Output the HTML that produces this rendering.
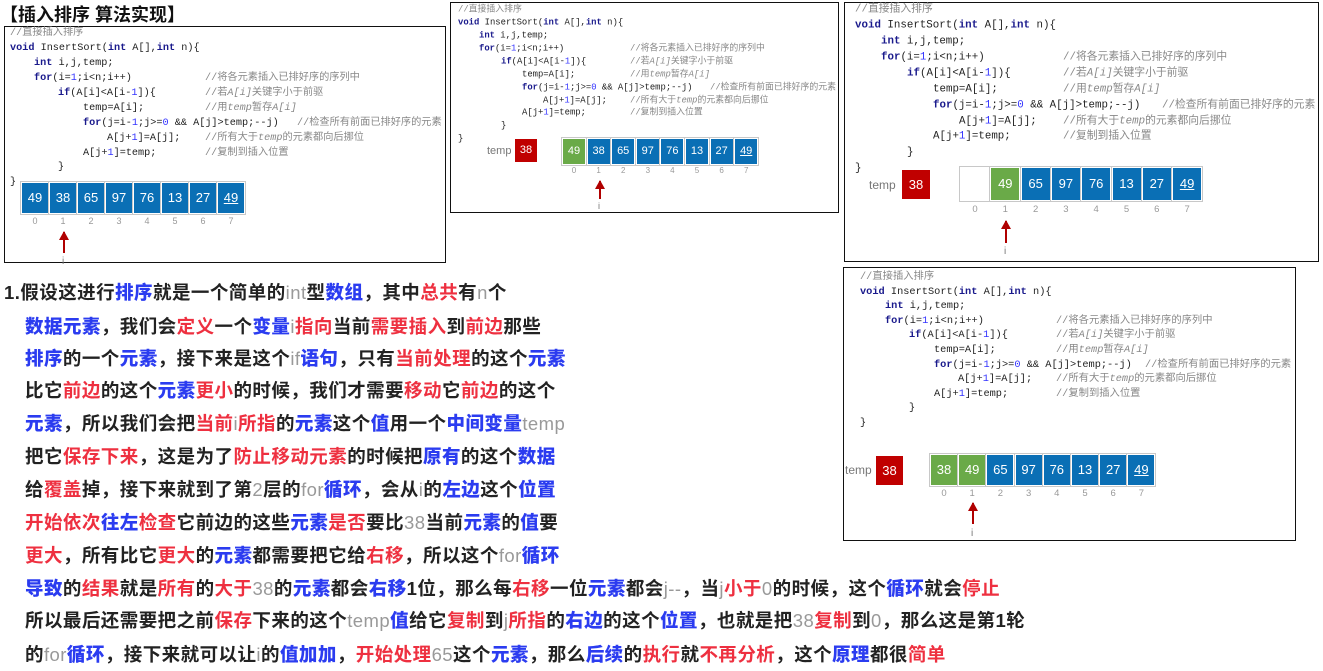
<!DOCTYPE html>
<html><head><meta charset="utf-8">
<style>
*{margin:0;padding:0;box-sizing:border-box}
body{width:1323px;height:671px;background:#fff;position:relative;overflow:hidden;font-family:"Liberation Sans","Noto Sans CJK SC",sans-serif}
.abs{position:absolute}
.box{position:absolute;border:1.5px solid #111;background:#fff}
.code{position:absolute;font-family:"Liberation Mono","Noto Sans CJK SC",monospace;color:#222;white-space:pre}
.code .l{position:absolute;white-space:pre;line-height:1;transform:translateY(-50%)}
.code .c{color:#888}
.code .k{color:#1a1a8c;font-weight:bold}
.code .n{color:#3333ff}
.code i{font-style:italic}
.cell{position:absolute;color:#fff;text-align:center;background:#0a6fb5;box-shadow:0 0 0 1px #fff,0 0 0 2px #c8c8c8}
.cell.g{background:#6aaa48}
.cell.w{background:#fff}
.cell.r{background:#c00000;box-shadow:none}
.idx{position:absolute;color:#999;text-align:center}
.arrow{position:absolute;width:2px;background:#b00000}
.arrow:before{content:"";position:absolute;left:-4px;top:-1px;border-left:5px solid transparent;border-right:5px solid transparent;border-bottom:9px solid #b00000}
.txt{position:absolute;font-size:18.5px;letter-spacing:0.45px;font-weight:bold;color:#222;white-space:nowrap;line-height:1;font-family:"Liberation Sans","Noto Sans CJK SC",sans-serif}
.txt b{color:#2b3cf0}
.txt em{font-style:normal;color:#ee3040}
.txt s{text-decoration:none;color:#999;font-weight:normal}
</style></head><body>

<div class="abs" style="left:0;top:5px;font-size:18px;font-weight:bold;color:#111;font-family:'Liberation Sans','Noto Sans CJK SC',sans-serif;line-height:20px">【插入排序 算法实现】</div>

<!-- Panel 1 -->
<div class="box" style="left:4px;top:26px;width:442px;height:237px"></div>
<div class="code" style="left:10px;top:34px;font-size:10.2px">
<div class="l c" style="top:0;left:0">//直接插入排序</div>
<div class="l" style="top:15px;left:0"><span class="k">void</span> InsertSort(<span class="k">int</span> A[],<span class="k">int</span> n){</div>
<div class="l" style="top:30px;left:24px"><span class="k">int</span> i,j,temp;</div>
<div class="l" style="top:45px;left:24px"><span class="k">for</span>(i=<span class="n">1</span>;i&lt;n;i++)</div>
<div class="l c" style="top:45px;left:195px">//将各元素插入已排好序的序列中</div>
<div class="l" style="top:60px;left:48px"><span class="k">if</span>(A[i]&lt;A[i-<span class="n">1</span>]){</div>
<div class="l c" style="top:60px;left:195px">//若<i>A[i]</i>关键字小于前驱</div>
<div class="l" style="top:75px;left:73px">temp=A[i];</div>
<div class="l c" style="top:75px;left:195px">//用<i>temp</i>暂存<i>A[i]</i></div>
<div class="l" style="top:90px;left:73px"><span class="k">for</span>(j=i-<span class="n">1</span>;j&gt;=<span class="n">0</span> &amp;&amp; A[j]&gt;temp;--j)</div>
<div class="l c" style="top:90px;left:287px">//检查所有前面已排好序的元素</div>
<div class="l" style="top:105px;left:97px">A[j+<span class="n">1</span>]=A[j];</div>
<div class="l c" style="top:105px;left:195px">//所有大于<i>temp</i>的元素都向后挪位</div>
<div class="l" style="top:120px;left:73px">A[j+<span class="n">1</span>]=temp;</div>
<div class="l c" style="top:120px;left:195px">//复制到插入位置</div>
<div class="l" style="top:134px;left:48px">}</div>
<div class="l" style="top:149px;left:0">}</div>
</div>
<div style="position:absolute;left:22px;top:183px;font-size:13px">
<div class="cell" style="left:0;top:0;width:26px;height:30px;line-height:30px">49</div>
<div class="cell" style="left:28px;top:0;width:26px;height:30px;line-height:30px">38</div>
<div class="cell" style="left:56px;top:0;width:26px;height:30px;line-height:30px">65</div>
<div class="cell" style="left:84px;top:0;width:26px;height:30px;line-height:30px">97</div>
<div class="cell" style="left:112px;top:0;width:26px;height:30px;line-height:30px">76</div>
<div class="cell" style="left:140px;top:0;width:26px;height:30px;line-height:30px">13</div>
<div class="cell" style="left:168px;top:0;width:26px;height:30px;line-height:30px">27</div>
<div class="cell" style="left:196px;top:0;width:26px;height:30px;line-height:30px"><u>49</u></div>
</div>
<div style="position:absolute;left:22px;top:216px;font-size:9px">
<div class="idx" style="left:0;width:26px">0</div><div class="idx" style="left:28px;width:26px">1</div><div class="idx" style="left:56px;width:26px">2</div><div class="idx" style="left:84px;width:26px">3</div><div class="idx" style="left:112px;width:26px">4</div><div class="idx" style="left:140px;width:26px">5</div><div class="idx" style="left:168px;width:26px">6</div><div class="idx" style="left:196px;width:26px">7</div>
</div>
<div class="arrow" style="left:63px;top:232px;height:21px"></div>
<div class="abs" style="left:62px;top:256px;font-size:10px;color:#777">i</div>

<!-- Panel 2 -->
<div class="box" style="left:450px;top:2px;width:389px;height:211px"></div>
<div class="code" style="left:458px;top:10px;font-size:8.9px">
<div class="l c" style="top:0;left:0">//直接插入排序</div>
<div class="l" style="top:13px;left:0"><span class="k">void</span> InsertSort(<span class="k">int</span> A[],<span class="k">int</span> n){</div>
<div class="l" style="top:26px;left:21px"><span class="k">int</span> i,j,temp;</div>
<div class="l" style="top:39px;left:21px"><span class="k">for</span>(i=<span class="n">1</span>;i&lt;n;i++)</div>
<div class="l c" style="top:39px;left:172px">//将各元素插入已排好序的序列中</div>
<div class="l" style="top:52px;left:43px"><span class="k">if</span>(A[i]&lt;A[i-<span class="n">1</span>]){</div>
<div class="l c" style="top:52px;left:172px">//若<i>A[i]</i>关键字小于前驱</div>
<div class="l" style="top:65px;left:64px">temp=A[i];</div>
<div class="l c" style="top:65px;left:172px">//用<i>temp</i>暂存<i>A[i]</i></div>
<div class="l" style="top:78px;left:64px"><span class="k">for</span>(j=i-<span class="n">1</span>;j&gt;=<span class="n">0</span> &amp;&amp; A[j]&gt;temp;--j)</div>
<div class="l c" style="top:78px;left:252px">//检查所有前面已排好序的元素</div>
<div class="l" style="top:91px;left:85px">A[j+<span class="n">1</span>]=A[j];</div>
<div class="l c" style="top:91px;left:172px">//所有大于<i>temp</i>的元素都向后挪位</div>
<div class="l" style="top:103px;left:64px">A[j+<span class="n">1</span>]=temp;</div>
<div class="l c" style="top:103px;left:172px">//复制到插入位置</div>
<div class="l" style="top:116px;left:43px">}</div>
<div class="l" style="top:129px;left:0">}</div>
</div>
<div class="abs" style="left:487px;top:145px;font-size:11px;color:#777">temp</div>
<div class="cell r" style="left:515px;top:139px;width:22px;height:23px;line-height:23px;font-size:11px">38</div>
<div style="position:absolute;left:563px;top:139px;font-size:11px">
<div class="cell g" style="left:0;top:0;width:22px;height:25px;line-height:25px">49</div>
<div class="cell" style="left:24.6px;top:0;width:22px;height:25px;line-height:25px">38</div>
<div class="cell" style="left:49.2px;top:0;width:22px;height:25px;line-height:25px">65</div>
<div class="cell" style="left:73.8px;top:0;width:22px;height:25px;line-height:25px">97</div>
<div class="cell" style="left:98.4px;top:0;width:22px;height:25px;line-height:25px">76</div>
<div class="cell" style="left:123px;top:0;width:22px;height:25px;line-height:25px">13</div>
<div class="cell" style="left:147.6px;top:0;width:22px;height:25px;line-height:25px">27</div>
<div class="cell" style="left:172.2px;top:0;width:22px;height:25px;line-height:25px"><u>49</u></div>
</div>
<div style="position:absolute;left:563px;top:166px;font-size:8px">
<div class="idx" style="left:0;width:22px">0</div><div class="idx" style="left:24.6px;width:22px">1</div><div class="idx" style="left:49.2px;width:22px">2</div><div class="idx" style="left:73.8px;width:22px">3</div><div class="idx" style="left:98.4px;width:22px">4</div><div class="idx" style="left:123px;width:22px">5</div><div class="idx" style="left:147.6px;width:22px">6</div><div class="idx" style="left:172.2px;width:22px">7</div>
</div>
<div class="arrow" style="left:599px;top:181px;height:18px"></div>
<div class="abs" style="left:598px;top:201px;font-size:9px;color:#777">i</div>

<!-- Panel 3 -->
<div class="box" style="left:844px;top:2px;width:475px;height:260px"></div>
<div class="code" style="left:855px;top:10px;font-size:10.8px">
<div class="l c" style="top:0;left:0">//直接插入排序</div>
<div class="l" style="top:16px;left:0"><span class="k">void</span> InsertSort(<span class="k">int</span> A[],<span class="k">int</span> n){</div>
<div class="l" style="top:32px;left:26px"><span class="k">int</span> i,j,temp;</div>
<div class="l" style="top:48px;left:26px"><span class="k">for</span>(i=<span class="n">1</span>;i&lt;n;i++)</div>
<div class="l c" style="top:48px;left:208px">//将各元素插入已排好序的序列中</div>
<div class="l" style="top:64px;left:52px"><span class="k">if</span>(A[i]&lt;A[i-<span class="n">1</span>]){</div>
<div class="l c" style="top:64px;left:208px">//若<i>A[i]</i>关键字小于前驱</div>
<div class="l" style="top:80px;left:78px">temp=A[i];</div>
<div class="l c" style="top:80px;left:208px">//用<i>temp</i>暂存<i>A[i]</i></div>
<div class="l" style="top:96px;left:78px"><span class="k">for</span>(j=i-<span class="n">1</span>;j&gt;=<span class="n">0</span> &amp;&amp; A[j]&gt;temp;--j)</div>
<div class="l c" style="top:96px;left:307px">//检查所有前面已排好序的元素</div>
<div class="l" style="top:112px;left:104px">A[j+<span class="n">1</span>]=A[j];</div>
<div class="l c" style="top:112px;left:208px">//所有大于<i>temp</i>的元素都向后挪位</div>
<div class="l" style="top:127px;left:78px">A[j+<span class="n">1</span>]=temp;</div>
<div class="l c" style="top:127px;left:208px">//复制到插入位置</div>
<div class="l" style="top:143px;left:52px">}</div>
<div class="l" style="top:159px;left:0">}</div>
</div>
<div class="abs" style="left:869px;top:178px;font-size:12px;color:#777">temp</div>
<div class="cell r" style="left:902px;top:170px;width:28px;height:29px;line-height:29px;font-size:13px">38</div>
<div style="position:absolute;left:961px;top:168px;font-size:13px">
<div class="cell w" style="left:0;top:0;width:28px;height:32px;line-height:32px"></div>
<div class="cell g" style="left:30.3px;top:0;width:28px;height:32px;line-height:32px">49</div>
<div class="cell" style="left:60.6px;top:0;width:28px;height:32px;line-height:32px">65</div>
<div class="cell" style="left:90.9px;top:0;width:28px;height:32px;line-height:32px">97</div>
<div class="cell" style="left:121.2px;top:0;width:28px;height:32px;line-height:32px">76</div>
<div class="cell" style="left:151.5px;top:0;width:28px;height:32px;line-height:32px">13</div>
<div class="cell" style="left:181.8px;top:0;width:28px;height:32px;line-height:32px">27</div>
<div class="cell" style="left:212.1px;top:0;width:28px;height:32px;line-height:32px"><u>49</u></div>
</div>
<div style="position:absolute;left:961px;top:204px;font-size:9.5px">
<div class="idx" style="left:0;width:28px">0</div><div class="idx" style="left:30.3px;width:28px">1</div><div class="idx" style="left:60.6px;width:28px">2</div><div class="idx" style="left:90.9px;width:28px">3</div><div class="idx" style="left:121.2px;width:28px">4</div><div class="idx" style="left:151.5px;width:28px">5</div><div class="idx" style="left:181.8px;width:28px">6</div><div class="idx" style="left:212.1px;width:28px">7</div>
</div>
<div class="arrow" style="left:1005px;top:221px;height:22px"></div>
<div class="abs" style="left:1004px;top:246px;font-size:10px;color:#777">i</div>

<!-- Panel 4 -->
<div class="box" style="left:843px;top:267px;width:453px;height:274px"></div>
<div class="code" style="left:860px;top:277px;font-size:10.3px">
<div class="l c" style="top:0;left:0">//直接插入排序</div>
<div class="l" style="top:14.6px;left:0"><span class="k">void</span> InsertSort(<span class="k">int</span> A[],<span class="k">int</span> n){</div>
<div class="l" style="top:29.2px;left:25px"><span class="k">int</span> i,j,temp;</div>
<div class="l" style="top:43.8px;left:25px"><span class="k">for</span>(i=<span class="n">1</span>;i&lt;n;i++)</div>
<div class="l c" style="top:43.8px;left:196px">//将各元素插入已排好序的序列中</div>
<div class="l" style="top:58.4px;left:49px"><span class="k">if</span>(A[i]&lt;A[i-<span class="n">1</span>]){</div>
<div class="l c" style="top:58.4px;left:196px">//若<i>A[i]</i>关键字小于前驱</div>
<div class="l" style="top:73px;left:74px">temp=A[i];</div>
<div class="l c" style="top:73px;left:196px">//用<i>temp</i>暂存<i>A[i]</i></div>
<div class="l" style="top:87.6px;left:74px"><span class="k">for</span>(j=i-<span class="n">1</span>;j&gt;=<span class="n">0</span> &amp;&amp; A[j]&gt;temp;--j)</div>
<div class="l c" style="top:87.6px;left:285px">//检查所有前面已排好序的元素</div>
<div class="l" style="top:102.2px;left:98px">A[j+<span class="n">1</span>]=A[j];</div>
<div class="l c" style="top:102.2px;left:196px">//所有大于<i>temp</i>的元素都向后挪位</div>
<div class="l" style="top:116.8px;left:74px">A[j+<span class="n">1</span>]=temp;</div>
<div class="l c" style="top:116.8px;left:196px">//复制到插入位置</div>
<div class="l" style="top:131.4px;left:49px">}</div>
<div class="l" style="top:146px;left:0">}</div>
</div>
<div class="abs" style="left:845px;top:463px;font-size:12px;color:#777">temp</div>
<div class="cell r" style="left:876px;top:456px;width:27px;height:29px;line-height:29px;font-size:13px">38</div>
<div style="position:absolute;left:931px;top:455px;font-size:13px">
<div class="cell g" style="left:0;top:0;width:26px;height:30px;line-height:30px">38</div>
<div class="cell g" style="left:28.2px;top:0;width:26px;height:30px;line-height:30px">49</div>
<div class="cell" style="left:56.4px;top:0;width:26px;height:30px;line-height:30px">65</div>
<div class="cell" style="left:84.6px;top:0;width:26px;height:30px;line-height:30px">97</div>
<div class="cell" style="left:112.8px;top:0;width:26px;height:30px;line-height:30px">76</div>
<div class="cell" style="left:141px;top:0;width:26px;height:30px;line-height:30px">13</div>
<div class="cell" style="left:169.2px;top:0;width:26px;height:30px;line-height:30px">27</div>
<div class="cell" style="left:197.4px;top:0;width:26px;height:30px;line-height:30px"><u>49</u></div>
</div>
<div style="position:absolute;left:931px;top:488px;font-size:9.5px">
<div class="idx" style="left:0;width:26px">0</div><div class="idx" style="left:28.2px;width:26px">1</div><div class="idx" style="left:56.4px;width:26px">2</div><div class="idx" style="left:84.6px;width:26px">3</div><div class="idx" style="left:112.8px;width:26px">4</div><div class="idx" style="left:141px;width:26px">5</div><div class="idx" style="left:169.2px;width:26px">6</div><div class="idx" style="left:197.4px;width:26px">7</div>
</div>
<div class="arrow" style="left:972px;top:503px;height:21px"></div>
<div class="abs" style="left:971px;top:528px;font-size:10px;color:#777">i</div>

<!-- Paragraph -->
<div class="txt" style="left:4px;top:284px">1.假设这进行<b>排序</b>就是一个简单的<s>int</s>型<b>数组</b>，其中<em>总共</em>有<s>n</s>个</div>
<div class="txt" style="left:25px;top:318px"><b>数据元素</b>，我们会<em>定义</em>一个<b>变量</b><s>i</s><em>指向</em>当前<em>需要插入</em>到<em>前边</em>那些</div>
<div class="txt" style="left:25px;top:350px"><b>排序</b>的一个<b>元素</b>，接下来是这个<s>if</s><b>语句</b>，只有<em>当前处理</em>的这个<b>元素</b></div>
<div class="txt" style="left:25px;top:382px">比它<em>前边</em>的这个<b>元素</b><em>更小</em>的时候，我们才需要<em>移动</em>它<em>前边</em>的这个</div>
<div class="txt" style="left:25px;top:415px"><b>元素</b>，所以我们会把<em>当前</em><s>i</s><em>所指</em>的<b>元素</b>这个<b>值</b>用一个<b>中间变量</b><s>temp</s></div>
<div class="txt" style="left:25px;top:448px">把它<em>保存下来</em>，这是为了<em>防止移动元素</em>的时候把<b>原有</b>的这个<b>数据</b></div>
<div class="txt" style="left:25px;top:481px">给<em>覆盖</em>掉，接下来就到了第<s>2</s>层的<s>for</s><b>循环</b>，会从<s>i</s>的<b>左边</b>这个<b>位置</b></div>
<div class="txt" style="left:25px;top:514px"><em>开始依次</em><b>往左</b><em>检查</em>它前边的这些<b>元素</b><em>是否</em>要比<s>38</s>当前<b>元素</b>的<b>值</b>要</div>
<div class="txt" style="left:25px;top:547px"><em>更大</em>，所有比它<em>更大</em>的<b>元素</b>都需要把它给<em>右移</em>，所以这个<s>for</s><b>循环</b></div>
<div class="txt" style="left:25px;top:580px"><b>导致</b>的<em>结果</em>就是<em>所有</em>的<em>大于</em><s>38</s>的<b>元素</b>都会<b>右移</b>1位，那么每<em>右移</em>一位<b>元素</b>都会<s>j--</s>，当<s>j</s><em>小于</em><s>0</s>的时候，这个<b>循环</b>就会<em>停止</em></div>
<div class="txt" style="left:25px;top:612px">所以最后还需要把之前<em>保存</em>下来的这个<s>temp</s><b>值</b>给它<em>复制</em>到<s>j</s><em>所指</em>的<b>右边</b>的这个<b>位置</b>，也就是把<s>38</s><em>复制</em>到<s>0</s>，那么这是第1轮</div>
<div class="txt" style="left:25px;top:646px">的<s>for</s><b>循环</b>，接下来就可以让<s>i</s>的<b>值加加</b>，<em>开始处理</em><s>65</s>这个<b>元素</b>，那么<b>后续</b>的<em>执行</em>就<em>不再分析</em>，这个<b>原理</b>都很<em>简单</em></div>

</body></html>
